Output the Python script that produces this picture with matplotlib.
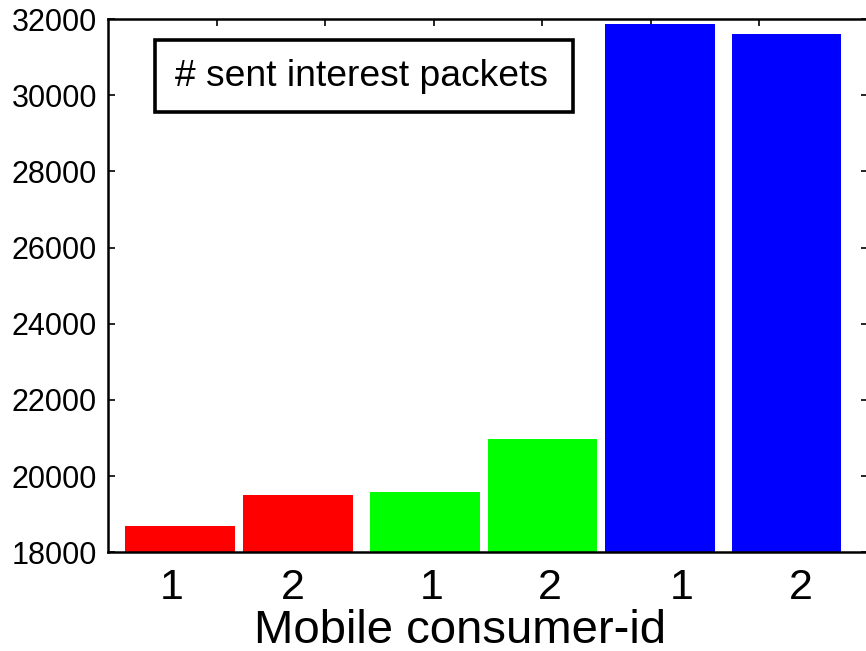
import matplotlib
matplotlib.use('Agg')
import matplotlib.pyplot as plt
import matplotlib.transforms as mtransforms
from matplotlib.patches import Rectangle

# Sent interest packets per mobile consumer (three scenarios, two consumers each)
consumer_ids = ['1', '2', '1', '2', '1', '2']
sent_interests = [18690, 19505, 19590, 20966, 31860, 31614]
bar_colors = ['#ff0000', '#ff0000', '#00ff00', '#00ff00', '#0000ff', '#0000ff']
bar_x = [0.662, 1.751, 2.918, 4.003, 5.083, 6.250]
label_x = [0.588, 1.700, 2.980, 4.070, 5.280, 6.380]
y_ticks = list(range(18000, 32001, 2000))
x_ticks = [1, 2, 3, 4, 5, 6]

plt.rcParams['font.family'] = ['Liberation Sans', 'DejaVu Sans']

fig = plt.figure(figsize=(8.66, 6.51), dpi=100)
ax = fig.add_axes([0.1247, 0.1516, 0.8776, 0.8192])
ax.set_axisbelow(True)

ax.bar(bar_x, sent_interests, width=1.01, color=bar_colors, linewidth=0, zorder=1)

ax.set_xlim(0, 7)
ax.set_ylim(18000, 32000)
ax.set_xticks(x_ticks)
ax.set_xticklabels([])
ax.set_yticks(y_ticks)
ax.set_yticklabels([str(t) for t in y_ticks], fontsize=22)
ax.tick_params(direction='in', top=True, right=True, length=5, width=1.2,
               pad=8, colors='black')
for sp in ax.spines.values():
    sp.set_linewidth(1.8)
    sp.set_zorder(3)

# Consumer-id labels under each bar
trans = mtransforms.blended_transform_factory(ax.transData, ax.transAxes)
for x, lab in zip(label_x, consumer_ids):
    ax.text(x, -0.088, lab, transform=trans, ha='center', va='baseline',
            fontsize=31, clip_on=False)

ax.text(0.463, -0.1705, 'Mobile consumer-id', transform=ax.transAxes,
        ha='center', va='baseline', fontsize=34, clip_on=False)

# Boxed caption
ax.add_patch(Rectangle((0.0618, 0.8256), 0.5502, 0.135, transform=ax.transAxes,
                       facecolor='white', edgecolor='black', linewidth=2.6,
                       zorder=4))
ax.text(0.3336, 0.893, '# sent interest packets', transform=ax.transAxes,
        ha='center', va='center', fontsize=26.8, zorder=5)

fig.savefig('out.png', dpi=100)
